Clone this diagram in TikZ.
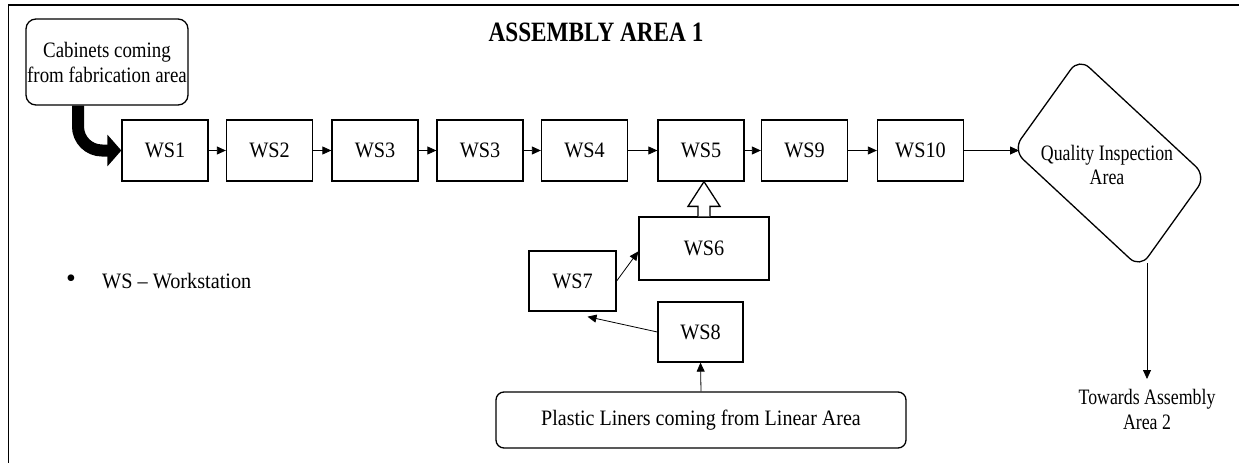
\documentclass[tikz,border=0pt]{standalone}
\usepackage{fontspec}
\setmainfont{Liberation Serif}
\newfontfamily\wsfont[FakeStretch=0.92]{Liberation Serif}
\newfontfamily\cabfont[FakeStretch=0.86]{Liberation Serif}
\newfontfamily\qfont[FakeStretch=0.81]{Liberation Serif}
\newfontfamily\plfont[FakeStretch=0.91]{Liberation Serif}
\newfontfamily\ttlfont[FakeStretch=0.83]{Liberation Serif}
\usetikzlibrary{arrows.meta,calc}
\begin{document}
\begin{tikzpicture}[x=1pt,y=-1pt,
  txt/.style={font=\wsfont\fontsize{22}{25}\selectfont, align=center, inner sep=0pt},
  wsbox/.style={txt, draw, line width=1.3pt, minimum width=86pt, minimum height=61pt},
  roundbox/.style={txt, draw, line width=1.3pt, rounded corners=10pt},
  flow/.style={line width=0.8pt, -{Triangle[length=9pt,width=8pt]}},
  bigflow/.style={line width=12pt, rounded corners=24pt, -{Triangle[length=14pt,width=31pt]}},
  hollow/.style={line width=1.3pt, fill=white, line join=miter}
]
\useasboundingbox (0,0) rectangle (1239,463);
% frame
\draw[line width=1.6pt] (1239,5) -- (8.5,5) -- (8.5,463);
% title
\node[font=\ttlfont\bfseries\fontsize{28}{32}\selectfont, inner sep=0pt] (title) at (596,32) {ASSEMBLY AREA 1};
% source box
\node[roundbox, font=\cabfont\fontsize{22}{25}\selectfont, minimum width=162pt, minimum height=86pt] (cab) at (107,62) {Cabinets coming\\from fabrication area};
% workstations
\node[wsbox] (ws1) at (165,150.5) {WS1};
\node[wsbox] (ws2) at (269.5,150.5) {WS2};
\node[wsbox] (ws3a) at (375,150.5) {WS3};
\node[wsbox] (ws3b) at (480,150.5) {WS3};
\node[wsbox] (ws4) at (584.5,150.5) {WS4};
\node[wsbox] (ws5) at (701,150.5) {WS5};
\node[wsbox] (ws9) at (804.5,150.5) {WS9};
\node[wsbox] (ws10) at (920.5,150.5) {WS10};
\node[wsbox, minimum width=130pt, minimum height=63pt] (ws6) at (704,248.5) {WS6};
\node[wsbox, minimum width=87pt, minimum height=60pt] (ws7) at (572.5,281) {WS7};
\node[wsbox, minimum width=85pt, minimum height=60pt] (ws8) at (700.5,332) {WS8};
\node[roundbox, font=\plfont\fontsize{22}{25}\selectfont, rounded corners=8pt, minimum width=410pt, minimum height=56pt] (pl) at (701,420) {Plastic Liners coming from Linear Area};
% quality inspection area
\coordinate (qL) at (1013,150);
\coordinate (qT) at (1079,58);
\coordinate (qR) at (1206,176);
\coordinate (qB) at (1140,268);
\draw[line width=1.3pt, rounded corners=14pt] ($(qL)!0.5!(qT)$) -- (qT) -- (qR) -- (qB) -- (qL) -- cycle;
\node[txt, font=\qfont\fontsize{22}{24}\selectfont] (qi) at (1107,165) {Quality Inspection\\Area};
\coordinate (qin) at (1019,150.5);
\coordinate (qout) at (1147,263);
\node[txt, font=\qfont\fontsize{22}{25}\selectfont, anchor=north, inner sep=1pt] (tow) at (1147,388) {Towards Assembly\\Area 2};
% legend
\node[txt, font=\fontsize{28}{28}\selectfont] (bul) at (71,281) {•};
\node[txt, anchor=west] (leg) at (102,281) {WS – Workstation};
% connectors
\draw[bigflow] ([xshift=-29pt]cab.south) |- (ws1.west);
\draw[flow] (ws1) -- (ws2);
\draw[flow] (ws2) -- (ws3a);
\draw[flow] (ws3a) -- (ws3b);
\draw[flow] (ws3b) -- (ws4);
\draw[flow] (ws4) -- (ws5);
\draw[flow] (ws5) -- (ws9);
\draw[flow] (ws9) -- (ws10);
\draw[flow] (ws10.east) -- (qin);
\draw[flow] (qout) -- ([yshift=9pt]tow.north);
\draw[flow] (pl.north) -- (ws8.south);
\draw[flow] (ws8.west) -- ([shift={(15pt,-5pt)}]ws7.south);
\draw[flow] (ws7.east) -- ([yshift=-35pt]ws6.north west);
\draw[hollow] ([xshift=-6pt]ws6.north) -- ++(0,-10) -- ++(-10,0) -- (ws6.north |- ws5.south) -- ([xshift=16pt,yshift=10pt]ws6.north) -- ++(-10,0) -- ++(0,10);
\end{tikzpicture}
\end{document}
